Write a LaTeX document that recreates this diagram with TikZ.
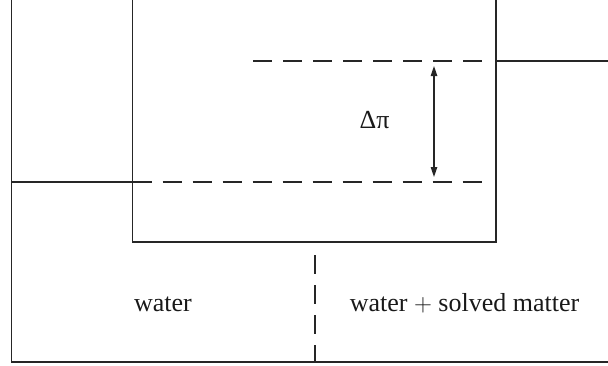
\documentclass[tikz,border=0pt]{standalone}
\usepackage{fontspec}
\setmainfont{Liberation Serif}
\newfontfamily\lblfont{Liberation Serif}
\usetikzlibrary{arrows.meta}
\begin{document}
\begin{tikzpicture}[x=1pt,y=-1pt,
  wall/.style={line width=1.2pt, draw=black!85},
  level/.style={wall, dash pattern=on 19pt off 11pt},
  tipboth/.style={{Triangle[length=10pt,width=6.5pt]}-{Triangle[length=10pt,width=6.5pt]}},
  lbl/.style={font=\lblfont\fontsize{26}{30}\selectfont, inner sep=0pt, anchor=base, text=black!90}]
\useasboundingbox (0,0) rectangle (608,365);
% outer vessel
\draw[wall] (11.5,0) -- (11.5,362) -- (608,362);
% inner vessel
\draw[wall] (132.5,0) -- (132.5,242) -- (496,242) -- (496,0);
% water levels
\draw[wall] (11.5,182) -- (132.5,182);
\draw[wall] (496,61) -- (608,61);
\draw[level] (132.5,182) -- (483,182);
\draw[level] (253,61) -- (483,61);
% membrane
\draw[level] (315,255) -- (315,362);
% pressure difference arrow
\coordinate (top) at (434,66);
\coordinate (bot) at (434,177);
\draw[wall, tipboth] (top) -- (bot);
% labels
\node[lbl] (dpi) at (374.5,128) {Δπ};
\node[lbl] (w) at (163,311.5) {water};
\node[lbl] (ws) at (464.5,311.5) {water $+$ solved matter};
\end{tikzpicture}
\end{document}
